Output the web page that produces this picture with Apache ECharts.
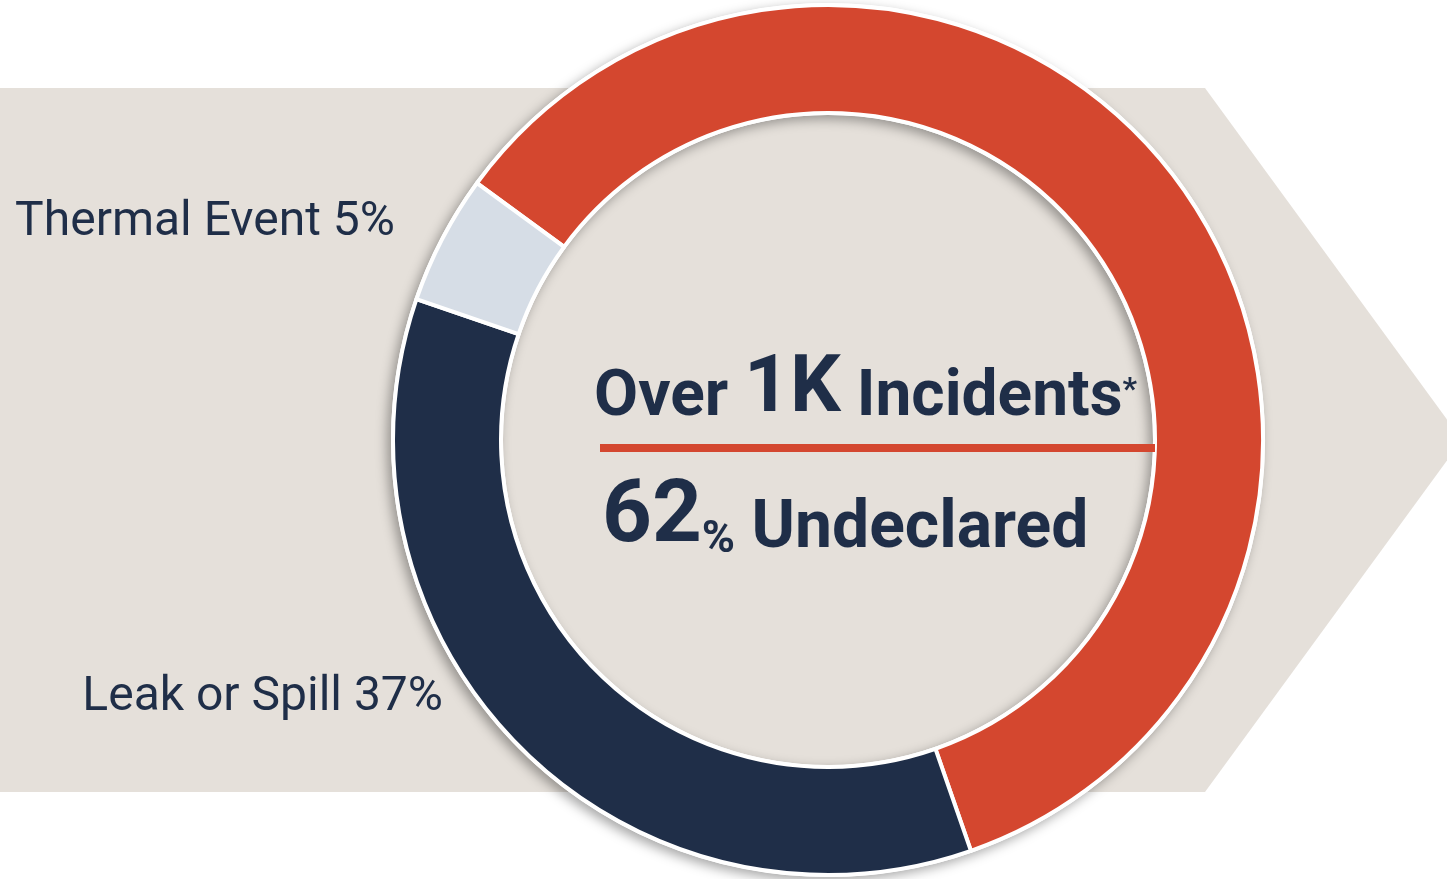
<!DOCTYPE html>
<html>
<head>
<meta charset="utf-8">
<script src="https://cdn.jsdelivr.net/npm/echarts@6/dist/echarts.min.js"></script>
<style>
  html, body { margin: 0; padding: 0; background: #ffffff; }
  #chart { width: 1447px; height: 879px; }
</style>
</head>
<body>
<div id="chart"></div>
<script>
// data
var categories = ['Undeclared', 'Leak or Spill', 'Thermal Event'];
var values = [62, 37, 5];
var headline = ['Over ', '1K', ' Incidents', '*'];
var subline = ['62', '%', ' Undeclared'];

(function() {
  var red = '#d4472f';
  var navy = '#1f2e48';
  var pale = '#d6dde6';
  var beige = '#e5e0da';
  var ink = '#1f2e48';

  var chart = echarts.init(document.getElementById('chart'), null, { renderer: 'canvas' });

  var cx = 828, cy = 440;
  var sliceColors = [red, navy, pale];

  var pieData = categories.map(function(name, i) {
    return { name: name, value: values[i], itemStyle: { color: sliceColors[i] } };
  });

  chart.setOption({
    backgroundColor: '#ffffff',
    animation: false,
    graphic: [
      {
        type: 'polygon',
        z: -10,
        shape: { points: [[0, 88], [1205, 88], [1462, 440], [1205, 792], [0, 792]] },
        style: { fill: beige }
      },
      {
        type: 'text',
        z: 100,
        style: {
          x: 395, y: 223,
          text: categories[2] + ' ' + values[2] + '%',
          fill: ink, font: '400 48px Roboto',
          textAlign: 'right', textVerticalAlign: 'middle'
        }
      },
      {
        type: 'text',
        z: 100,
        style: {
          x: 443, y: 698,
          text: categories[1] + ' ' + values[1] + '%',
          fill: ink, font: '400 48px Roboto',
          textAlign: 'right', textVerticalAlign: 'middle'
        }
      },
      {
        type: 'text',
        z: 100,
        style: {
          x: 594, y: 431,
          text: '{a|' + headline[0] + '}{b|' + headline[1] + '}{a|' + headline[2] + '}{s|' + headline[3] + '}',
          textVerticalAlign: 'bottom',
          rich: {
            a: { fontFamily: 'Roboto', fontWeight: 700, fontSize: 64, fill: ink, verticalAlign: 'bottom' },
            b: { fontFamily: 'Roboto', fontWeight: 700, fontSize: 80, fill: ink, verticalAlign: 'bottom' },
            s: { fontFamily: 'Roboto', fontWeight: 700, fontSize: 32, fill: ink, verticalAlign: 'middle' }
          }
        }
      },
      {
        type: 'rect',
        z: 100,
        shape: { x: 600, y: 444, width: 555, height: 8 },
        style: { fill: red }
      },
      {
        type: 'text',
        z: 100,
        style: {
          x: 602, y: 563,
          text: '{n|' + subline[0] + '}{p|' + subline[1] + '}{a|' + subline[2] + '}',
          textVerticalAlign: 'bottom',
          rich: {
            n: { fontFamily: 'Roboto', fontWeight: 700, fontSize: 87, fill: ink, verticalAlign: 'bottom' },
            p: { fontFamily: 'Roboto', fontWeight: 700, fontSize: 45, fill: ink, verticalAlign: 'bottom' },
            a: { fontFamily: 'Roboto', fontWeight: 700, fontSize: 66, fill: ink, verticalAlign: 'bottom' }
          }
        }
      }
    ],
    series: [
      {
        // white backing ring with the drop shadow
        type: 'pie',
        silent: true,
        center: [cx, cy],
        radius: [325, 437],
        label: { show: false },
        labelLine: { show: false },
        itemStyle: {
          color: '#ffffff',
          shadowBlur: 12,
          shadowOffsetX: -4,
          shadowOffsetY: 4,
          shadowColor: 'rgba(0,0,0,0.35)'
        },
        data: [{ value: 1, name: 'ring' }]
      },
      {
        type: 'pie',
        center: [cx, cy],
        radius: [327, 435],
        startAngle: 143.8,
        clockwise: true,
        label: { show: false },
        labelLine: { show: false },
        itemStyle: { borderColor: '#ffffff', borderWidth: 4 },
        emphasis: { disabled: true },
        data: pieData
      }
    ]
  });

  window.addEventListener('resize', function() { chart.resize(); });
})();
</script>
</body>
</html>
